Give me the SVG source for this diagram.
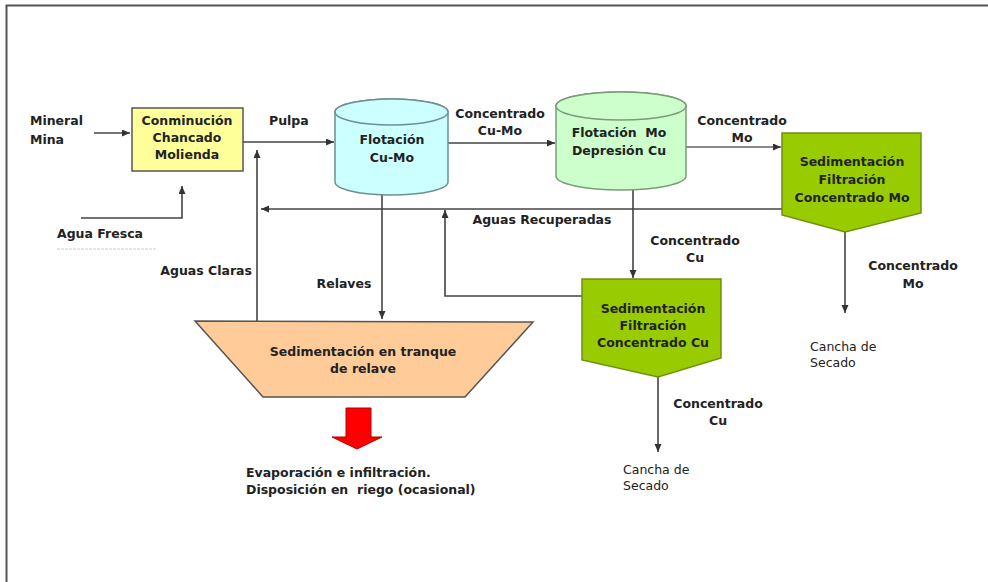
<svg xmlns="http://www.w3.org/2000/svg" width="988" height="582" viewBox="0 0 988 582">
<defs>
<marker id="ah" markerWidth="9" markerHeight="8" refX="8" refY="3.5" orient="auto" markerUnits="userSpaceOnUse">
<path d="M0,0 L8,3.5 L0,7 z" fill="#333"/>
</marker>
<style>
text{font-family:"DejaVu Sans","Liberation Sans",sans-serif;font-weight:bold;font-size:12.5px;fill:#222}
.c{text-anchor:middle}
.ln{fill:none;stroke:#444;stroke-width:1.6}
.lt{fill:none;stroke:#8a8a8a;stroke-width:2}
.g{fill:#99CC00;stroke:#6f8f10;stroke-width:1.5}
</style>
</defs>
<rect width="988" height="582" fill="#fff"/>
<path d="M6.5,582 L6.5,5.5 L988,5.5" fill="none" stroke="#555" stroke-width="2"/>

<g id="connectors">
<path class="ln" d="M94,133 L130,133" marker-end="url(#ah)"/>
<path class="ln" d="M81,218 L182,218 L182,186" marker-end="url(#ah)"/>
<path class="ln" d="M243,142 L334,142" marker-end="url(#ah)"/>
<path class="ln" d="M448,143 L555,143" marker-end="url(#ah)"/>
<path class="lt" d="M686,147 L781,147" marker-end="url(#ah)"/>
<path class="ln" d="M845,232 L845,313" marker-end="url(#ah)"/>
<path class="ln" d="M782,209 L261,209" stroke-width="2" marker-end="url(#ah)"/>
<path class="ln" d="M257,321 L257,150" stroke-width="2" marker-end="url(#ah)"/>
<path class="ln" d="M382,195 L382,319" marker-end="url(#ah)"/>
<path class="ln" d="M633,190 L633,278" marker-end="url(#ah)"/>
<path class="ln" d="M582,296 L445,296 L445,210" marker-end="url(#ah)"/>
<path class="ln" d="M658,377 L658,452" marker-end="url(#ah)"/>
</g>

<g id="labels">
<text x="30" y="125">Mineral</text>
<text x="30" y="144">Mina</text>
<text x="57" y="238">Agua Fresca</text>
<line x1="57" y1="249" x2="157" y2="249" stroke="#d0d0d0" stroke-width="1.2" stroke-dasharray="3,1"/>
<text x="269" y="125">Pulpa</text>
<text class="c" x="500" y="118">Concentrado</text>
<text class="c" x="500" y="135">Cu-Mo</text>
<text class="c" x="742" y="125">Concentrado</text>
<text class="c" x="742" y="142">Mo</text>
<text class="c" x="542" y="224">Aguas Recuperadas</text>
<text x="252" y="275" text-anchor="end">Aguas Claras</text>
<text class="c" x="344" y="288">Relaves</text>
<text class="c" x="695" y="245">Concentrado</text>
<text class="c" x="695" y="262">Cu</text>
<text class="c" x="913" y="270">Concentrado</text>
<text class="c" x="913" y="288">Mo</text>
<text x="810" y="351" style="font-weight:normal">Cancha de</text>
<text x="810" y="367" style="font-weight:normal">Secado</text>
<text class="c" x="718" y="408">Concentrado</text>
<text class="c" x="718" y="425">Cu</text>
<text x="623" y="474" style="font-weight:normal">Cancha de</text>
<text x="623" y="490" style="font-weight:normal">Secado</text>
<text x="246" y="477">Evaporación e infiltración.</text>
<text x="246" y="494" xml:space="preserve">Disposición en  riego (ocasional)</text>
</g>

<g id="conminucion">
<rect x="132" y="108" width="111" height="63" fill="#FFFF99" stroke="#555" stroke-width="1.5"/>
<text class="c" x="187" y="125">Conminución</text>
<text class="c" x="187" y="142">Chancado</text>
<text class="c" x="187" y="159">Molienda</text>
</g>

<g id="flotacion-cumo">
<path d="M335,112 L335,182 A56.5,13 0 0 0 448,182 L448,112 A56.5,13 0 0 0 335,112 Z" fill="#CCFFFF" stroke="#6f8f8f" stroke-width="1.5"/>
<ellipse cx="391.5" cy="112" rx="56.5" ry="13" fill="#CCFFFF" stroke="#6f8f8f" stroke-width="1.5"/>
<text class="c" x="392" y="144">Flotación</text>
<text class="c" x="392" y="162">Cu-Mo</text>
</g>

<g id="flotacion-mo">
<path d="M556,106 L556,176 A65,14 0 0 0 686,176 L686,106 A65,14 0 0 0 556,106 Z" fill="#CCFFCC" stroke="#7a9a7a" stroke-width="1.5"/>
<ellipse cx="621" cy="106" rx="65" ry="14" fill="#CCFFCC" stroke="#7a9a7a" stroke-width="1.5"/>
<text class="c" x="619" y="137" xml:space="preserve">Flotación  Mo</text>
<text class="c" x="619" y="155">Depresión Cu</text>
</g>

<g id="sed-mo">
<path class="g" d="M782,133 L921,133 L921,213 L845,232 L782,215 Z"/>
<text class="c" x="852" y="166">Sedimentación</text>
<text class="c" x="852" y="184">Filtración</text>
<text class="c" x="852" y="202">Concentrado Mo</text>
</g>

<g id="sed-cu">
<path class="g" d="M582,279 L721,279 L721,358 L658,377 L582,360 Z"/>
<text class="c" x="653" y="313">Sedimentación</text>
<text class="c" x="653" y="330">Filtración</text>
<text class="c" x="653" y="347">Concentrado Cu</text>
</g>

<g id="tranque">
<path d="M195,321 L533,322 L465,397 L263,397 Z" fill="#FFCC99" stroke="#555" stroke-width="1.5"/>
<text class="c" x="363" y="356">Sedimentación en tranque</text>
<text class="c" x="363" y="373">de relave</text>
</g>

<g id="red-arrow">
<path d="M346,408 L371,408 L371,437 L382,437 L357,449 L332,437 L346,437 Z" fill="#FF0000" stroke="#B00000" stroke-width="1"/>
</g>
</svg>
